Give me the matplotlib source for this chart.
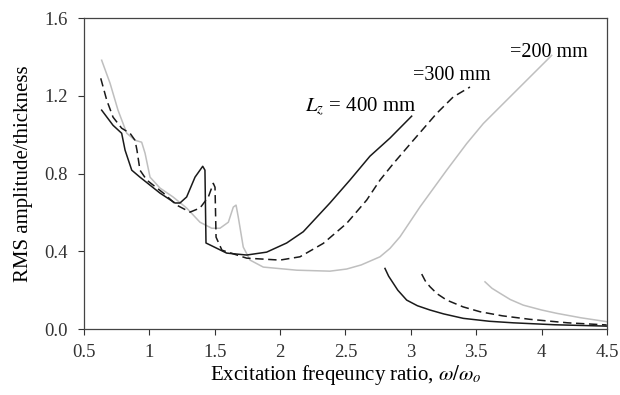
import matplotlib
matplotlib.use('Agg')
import matplotlib.pyplot as plt

plt.rcParams['font.family'] = ['Liberation Serif', 'DejaVu Serif']
plt.rcParams['mathtext.fontset'] = 'stix'

# Lz = 400 mm, main branch (with jump down near 1.43)
x400 = [0.635, 0.722, 0.788, 0.814, 0.865, 0.928, 1.081, 1.196, 1.234, 1.285, 1.349, 1.408,
        1.425, 1.433, 1.591, 1.744, 1.897, 2.050, 2.177, 2.381, 2.534, 2.687, 2.840, 3.006]
y400 = [1.127, 1.049, 1.008, 0.921, 0.818, 0.782, 0.700, 0.649, 0.649, 0.680, 0.782, 0.838,
        0.818, 0.443, 0.391, 0.381, 0.396, 0.443, 0.501, 0.649, 0.767, 0.890, 0.983, 1.096]
# Lz = 400 mm, tail branch
x400t = [2.802, 2.83, 2.866, 2.90, 2.968, 3.05, 3.146, 3.25, 3.401, 3.60, 3.783, 4.10, 4.498]
y400t = [0.312, 0.272, 0.235, 0.200, 0.149, 0.120, 0.098, 0.078, 0.055, 0.040, 0.032, 0.022, 0.015]

# Lz = 300 mm
x300 = [0.628, 0.674, 0.722, 0.788, 0.852, 0.890, 0.905, 0.928, 0.980, 1.107, 1.209, 1.311,
        1.387, 1.451, 1.489, 1.502, 1.510, 1.555, 1.744, 1.999, 2.152, 2.330, 2.509, 2.662,
        2.764, 2.866, 3.019, 3.197, 3.324, 3.452]
y300 = [1.291, 1.178, 1.091, 1.034, 1.008, 0.972, 0.921, 0.818, 0.767, 0.700, 0.638, 0.602,
        0.623, 0.680, 0.750, 0.730, 0.473, 0.406, 0.365, 0.355, 0.372, 0.441, 0.544, 0.664,
        0.767, 0.852, 0.972, 1.110, 1.195, 1.246]
x300t = [3.083, 3.11, 3.146, 3.20, 3.274, 3.40, 3.529, 3.70, 3.911, 4.20, 4.498]
y300t = [0.283, 0.248, 0.218, 0.182, 0.149, 0.114, 0.089, 0.068, 0.050, 0.032, 0.021]

# Lz = 200 mm
x200 = [0.635, 0.699, 0.760, 0.827, 0.890, 0.941, 0.967, 1.005, 1.081, 1.181, 1.285, 1.387,
        1.477, 1.540, 1.604, 1.642, 1.663, 1.680, 1.718, 1.770, 1.871, 2.127, 2.381, 2.509,
        2.62, 2.764, 2.84, 2.917, 3.070, 3.274, 3.427, 3.554, 3.682, 3.886, 4.077]
y200 = [1.384, 1.266, 1.127, 1.008, 0.972, 0.962, 0.905, 0.782, 0.726, 0.680, 0.623, 0.550,
        0.519, 0.519, 0.550, 0.628, 0.638, 0.576, 0.422, 0.355, 0.319, 0.303, 0.298, 0.309,
        0.330, 0.372, 0.415, 0.475, 0.629, 0.818, 0.955, 1.058, 1.144, 1.281, 1.409]
x200t = [3.567, 3.62, 3.682, 3.76, 3.860, 4.0, 4.115, 4.30, 4.498]
y200t = [0.243, 0.210, 0.184, 0.152, 0.123, 0.098, 0.081, 0.058, 0.038]

xticks = [0.5, 1, 1.5, 2, 2.5, 3, 3.5, 4, 4.5]
xtick_labels = ['0.5', '1', '1.5', '2', '2.5', '3', '3.5', '4', '4.5']
yticks = [0.0, 0.4, 0.8, 1.2, 1.6]
ytick_labels = ['0.0', '0.4', '0.8', '1.2', '1.6']

fig = plt.figure(figsize=(6.2, 3.95), dpi=100)
ax = fig.add_axes([0.1355, 0.167, 0.8435, 0.7867])

black = '#1a1a1a'
gray = '#bfbfbf'
ax.plot(x200, y200, color=gray, lw=1.1)
ax.plot(x200t, y200t, color=gray, lw=1.1)
ax.plot(x300, y300, color=black, lw=1.1, dashes=(5.5, 3))
ax.plot(x300t, y300t, color=black, lw=1.1, dashes=(5.5, 3))
ax.plot(x400, y400, color=black, lw=1.1)
ax.plot(x400t, y400t, color=black, lw=1.1)

# curve labels
ax.text(2.19, 1.119, r'$L_z$ = 400 mm', fontsize=15, va='baseline')
ax.text(3.016, 1.282, '=300 mm', fontsize=14.5, va='baseline')
ax.text(3.758, 1.402, '=200 mm', fontsize=14.5, va='baseline')

ax.set_xlim(0.5, 4.5)
ax.set_ylim(0, 1.6)
ax.set_xticks(xticks)
ax.set_xticklabels(xtick_labels)
ax.set_yticks(yticks)
ax.set_yticklabels(ytick_labels)
ax.tick_params(direction='out', length=4, width=0.8, labelsize=13.5, colors='#333333')
ax.tick_params(axis='x', pad=7)
ax.tick_params(axis='y', pad=7.5)
for s in ax.spines.values():
    s.set_color('#444444')
    s.set_linewidth(0.9)

ax.set_xlabel(r'Excitation freqeuncy ratio, $\omega/\omega_o$', fontsize=15, labelpad=1)
ax.set_ylabel('RMS amplitude/thickness', fontsize=15, labelpad=8)

fig.savefig('out.png', dpi=100)
